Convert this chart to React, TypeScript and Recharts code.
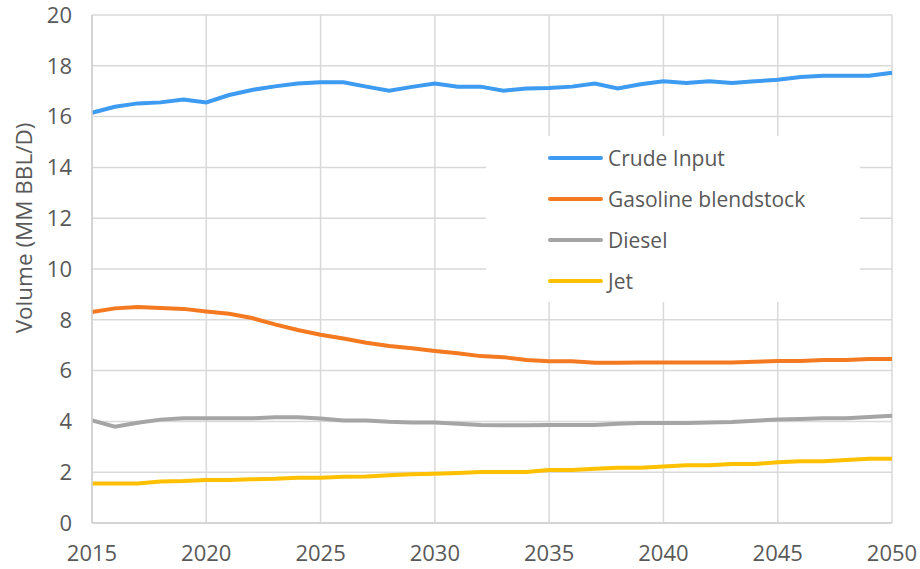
import React from "react";
import { LineChart, Line, XAxis, YAxis, CartesianGrid, Legend } from "recharts";

const years = [
  2015, 2016, 2017, 2018, 2019, 2020, 2021, 2022, 2023, 2024, 2025, 2026,
  2027, 2028, 2029, 2030, 2031, 2032, 2033, 2034, 2035, 2036, 2037, 2038,
  2039, 2040, 2041, 2042, 2043, 2044, 2045, 2046, 2047, 2048, 2049, 2050,
];

const crudeInput = [
  16.15, 16.39, 16.52, 16.56, 16.67, 16.56, 16.85, 17.05, 17.19, 17.3, 17.35, 17.35,
  17.18, 17.02, 17.17, 17.3, 17.18, 17.18, 17.02, 17.11, 17.13, 17.18, 17.3, 17.11,
  17.27, 17.39, 17.32, 17.39, 17.32, 17.39, 17.45, 17.56, 17.61, 17.61, 17.61, 17.73,
];

const gasoline = [
  8.31, 8.45, 8.5, 8.46, 8.43, 8.33, 8.24, 8.07, 7.82, 7.6, 7.41, 7.26,
  7.1, 6.97, 6.88, 6.77, 6.68, 6.57, 6.53, 6.42, 6.37, 6.37, 6.31, 6.31,
  6.32, 6.32, 6.32, 6.32, 6.32, 6.35, 6.38, 6.38, 6.42, 6.42, 6.46, 6.46,
];

const diesel = [
  4.04, 3.79, 3.95, 4.07, 4.12, 4.12, 4.12, 4.12, 4.16, 4.16, 4.11, 4.04,
  4.04, 3.99, 3.96, 3.96, 3.91, 3.86, 3.85, 3.85, 3.86, 3.86, 3.86, 3.91,
  3.94, 3.94, 3.94, 3.96, 3.98, 4.03, 4.07, 4.09, 4.12, 4.12, 4.17, 4.22,
];

const jet = [
  1.56, 1.56, 1.56, 1.63, 1.65, 1.69, 1.69, 1.72, 1.74, 1.78, 1.78, 1.82,
  1.83, 1.88, 1.92, 1.94, 1.97, 2.01, 2.01, 2.01, 2.09, 2.09, 2.14, 2.18,
  2.18, 2.22, 2.27, 2.27, 2.32, 2.32, 2.39, 2.43, 2.43, 2.48, 2.53, 2.53,
];

const xTicks = [2015, 2020, 2025, 2030, 2035, 2040, 2045, 2050];
const yTicks = [0, 2, 4, 6, 8, 10, 12, 14, 16, 18, 20];

const seriesNames = ["Crude Input", "Gasoline blendstock", "Diesel", "Jet"];
const seriesColors = ["#3D9BF2", "#F47A22", "#A5A5A5", "#FFC000"];

const data = years.map((y, i) => ({
  year: y,
  crude: crudeInput[i],
  gasoline: gasoline[i],
  diesel: diesel[i],
  jet: jet[i],
}));

const FONT = "'Open Sans', sans-serif";
const TEXT = "#595959";

const LegendBox = (props: any) => {
  const payload = [...(props.payload || [])].sort(
    (a: any, b: any) => seriesNames.indexOf(a.value) - seriesNames.indexOf(b.value)
  );
  return (
    <div
      style={{
        width: 374,
        height: 166,
        background: "#ffffff",
        position: "relative",
        fontFamily: FONT,
        fontSize: 21,
        color: TEXT,
      }}
    >
      {payload.map((p: any, i: number) => (
        <div
          key={i}
          style={{
            position: "absolute",
            left: 62,
            top: 21.7 + i * 41.2 - 15,
            height: 30,
            display: "flex",
            alignItems: "center",
            whiteSpace: "nowrap",
          }}
        >
          <div style={{ width: 55, height: 4, background: p.color, borderRadius: 2 }} />
          <span style={{ marginLeft: 5, lineHeight: "30px" }}>{p.value}</span>
        </div>
      ))}
    </div>
  );
};

const YLabel = () => (
  <text
    x={23}
    y={228}
    transform="rotate(-90, 23, 228)"
    textAnchor="middle"
    dominantBaseline="central"
    fill={TEXT}
    style={{ fontFamily: FONT, fontSize: 22.5 }}
  >
    Volume (MM BBL/D)
  </text>
);

export default function App() {
  return (
    <div style={{ position: "absolute", left: 0, top: 0, background: "#fff" }}>
      <LineChart
        width={920}
        height={569}
        data={data}
        margin={{ top: 15, right: 28, left: 0, bottom: 0 }}
      >
        <CartesianGrid stroke="#D9D9D9" strokeWidth={1.5} />
        <XAxis
          dataKey="year"
          type="number"
          domain={[2015, 2050]}
          ticks={xTicks}
          interval={0}
          height={46}
          tickLine={false}
          tickSize={0}
          tickMargin={22}
          axisLine={{ stroke: "#D0D0D0", strokeWidth: 1.5 }}
          tick={{ fill: TEXT, fontSize: 22, fontFamily: FONT }}
        />
        <YAxis
          type="number"
          domain={[0, 20]}
          ticks={yTicks}
          interval={0}
          width={92}
          tickLine={false}
          tickSize={0}
          tickMargin={20}
          axisLine={{ stroke: "#D0D0D0", strokeWidth: 1.5 }}
          tick={{ fill: TEXT, fontSize: 22, fontFamily: FONT }}
          label={<YLabel />}
        />
        <Legend
          layout="vertical"
          align="center"
          verticalAlign="middle"
          itemSorter={null as any}
          content={<LegendBox />}
          wrapperStyle={{ position: "absolute", left: 486, top: 136, width: 374, height: 166 }}
        />
        <Line type="linear" dataKey="crude" name={seriesNames[0]} stroke={seriesColors[0]} strokeWidth={4} dot={false} isAnimationActive={false} />
        <Line type="linear" dataKey="gasoline" name={seriesNames[1]} stroke={seriesColors[1]} strokeWidth={4} dot={false} isAnimationActive={false} />
        <Line type="linear" dataKey="diesel" name={seriesNames[2]} stroke={seriesColors[2]} strokeWidth={4} dot={false} isAnimationActive={false} />
        <Line type="linear" dataKey="jet" name={seriesNames[3]} stroke={seriesColors[3]} strokeWidth={4} dot={false} isAnimationActive={false} />
      </LineChart>
    </div>
  );
}
